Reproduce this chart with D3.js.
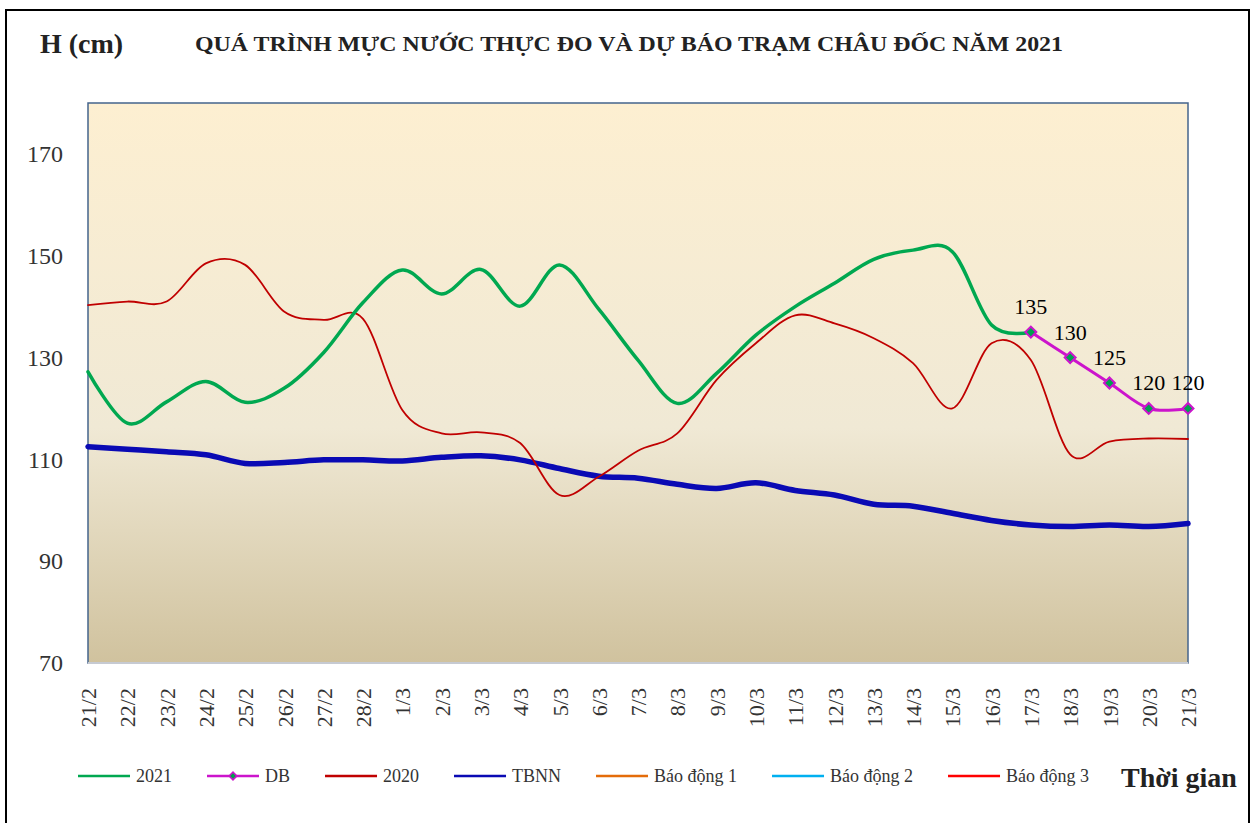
<!DOCTYPE html>
<html>
<head>
<meta charset="utf-8">
<script src="https://cdn.jsdelivr.net/npm/d3@7"></script>
<style>
  body { margin: 0; background: #fff; }
  svg text { font-family: "Liberation Serif", "Times New Roman", serif !important; }
</style>
</head>
<body>
<svg id="chart" width="1257" height="823" font-family="Liberation Serif, serif"></svg>
<script>
// categories (days)
const days = ['21/2','22/2','23/2','24/2','25/2','26/2','27/2','28/2','1/3','2/3','3/3','4/3','5/3','6/3',
  '7/3','8/3','9/3','10/3','11/3','12/3','13/3','14/3','15/3','16/3','17/3','18/3','19/3','20/3','21/3'];

// measured 2021 (up to 17/3)
const h2021 = [127.2,117.1,121.3,125.3,121.2,124.0,131.0,140.8,147.2,142.5,147.3,140.1,148.2,139.5,
  129.5,121.0,126.9,134.4,140.0,144.6,149.3,151.1,150.8,136.4,135];
// forecast DB (17/3 .. 21/3)
const dbDays = ['17/3','18/3','19/3','20/3','21/3'];
const hDB = [135,130,125,120,120];
// 2020
const h2020 = [140.3,141.0,141.0,148.5,148.2,139.0,137.4,137.6,119.7,115.1,115.3,113.2,103.0,106.6,
  111.7,115.1,125.6,132.8,138.3,136.7,133.8,128.9,120.0,132.8,129.5,111.0,113.5,114.1,114.0];
// TBNN (long-term average)
const hTBNN = [112.5,112.0,111.5,110.9,109.2,109.4,109.9,109.9,109.7,110.4,110.7,109.9,108.2,106.7,
  106.3,105.1,104.3,105.4,103.9,103.0,101.2,100.8,99.4,98.0,97.1,96.8,97.1,96.8,97.4];

const yTicks = [70, 90, 110, 130, 150, 170];

const legendItems = [
  { name: '2021', color: '#00a850' },
  { name: 'DB', color: '#cc14cc', marker: true },
  { name: '2020', color: '#c00000' },
  { name: 'TBNN', color: '#0a0ab4' },
  { name: 'Báo động 1', color: '#e46c0a' },
  { name: 'Báo động 2', color: '#00b0f0' },
  { name: 'Báo động 3', color: '#ff0000' }
];

const svg = d3.select('#chart');
const plot = { left: 88, right: 1188, top: 103, bottom: 663 };

// outer frame
svg.append('rect')
  .attr('x', 6).attr('y', 10)
  .attr('width', 1243).attr('height', 830)
  .attr('fill', 'none').attr('stroke', '#000').attr('stroke-width', 2);

// plot background gradient
const grad = svg.append('defs').append('linearGradient')
  .attr('id', 'bg').attr('x1', 0).attr('y1', 0).attr('x2', 0).attr('y2', 1);
grad.append('stop').attr('offset', '0%').attr('stop-color', '#fdefd1');
grad.append('stop').attr('offset', '58%').attr('stop-color', '#f0e9d5');
grad.append('stop').attr('offset', '100%').attr('stop-color', '#d0c29e');

svg.append('rect')
  .attr('x', plot.left).attr('y', plot.top)
  .attr('width', plot.right - plot.left).attr('height', plot.bottom - plot.top)
  .attr('fill', 'url(#bg)')
  .attr('stroke', '#44648c').attr('stroke-width', 1.5);
svg.append('line')
  .attr('x1', plot.left).attr('x2', plot.right)
  .attr('y1', plot.bottom).attr('y2', plot.bottom)
  .attr('stroke', '#c6cad2').attr('stroke-width', 2);

const x = d3.scalePoint().domain(days).range([plot.left, plot.right]);
const y = d3.scaleLinear().domain([70, 180]).range([plot.bottom, plot.top]);

// y axis
const yAxis = svg.append('g')
  .attr('transform', `translate(${plot.left},0)`)
  .call(d3.axisLeft(y).tickValues(yTicks).tickSize(0).tickPadding(25));
yAxis.select('.domain').remove();
yAxis.attr('font-family', null);
yAxis.selectAll('text')
  .style('font-size', '24px')
  .attr('fill', '#333');

// x axis
const xAxis = svg.append('g')
  .attr('transform', `translate(0,${plot.bottom})`)
  .call(d3.axisBottom(x).tickSize(0));
xAxis.select('.domain').remove();
xAxis.attr('font-family', null);
xAxis.selectAll('text')
  .style('font-size', '22px')
  .attr('fill', '#333')
  .attr('transform', 'rotate(-90)')
  .attr('x', -25).attr('y', 0).attr('dy', '0.35em')
  .style('text-anchor', 'end');

// lines
const line = d3.line()
  .x(d => x(d[0]))
  .y(d => y(d[1]))
  .curve(d3.curveCatmullRom.alpha(0));

function draw(keys, vals, color, width) {
  svg.append('path')
    .datum(vals.map((v, i) => [keys[i], v]))
    .attr('d', line)
    .attr('fill', 'none')
    .attr('stroke', color)
    .attr('stroke-width', width)
    .attr('stroke-linejoin', 'round')
    .attr('stroke-linecap', 'round');
}

draw(days, hTBNN, '#0a0ab4', 5.5);
draw(days, h2020, '#c00000', 1.8);
draw(days, h2021, '#00a850', 3.5);
draw(dbDays, hDB, '#cc14cc', 3);

// square rotated 45deg -> even diamond
const square = d3.symbol().type(d3.symbolSquare);

svg.append('g').selectAll('path')
  .data(hDB)
  .join('path')
  .attr('transform', (d, i) => `translate(${x(dbDays[i])},${y(d)}) rotate(45)`)
  .attr('d', square.size(60)())
  .attr('fill', '#00a050')
  .attr('stroke', '#cc14cc')
  .attr('stroke-width', 2);

svg.append('g').selectAll('text')
  .data(hDB)
  .join('text')
  .attr('x', (d, i) => x(dbDays[i]))
  .attr('y', d => y(d) - 18)
  .attr('text-anchor', 'middle')
  .style('font-size', '22px')
  .attr('fill', '#000')
  .text(d => d);

// titles
svg.append('text')
  .attr('x', 40).attr('y', 53)
  .style('font-size', '28px').style('font-weight', 'bold')
  .attr('fill', '#222')
  .text('H (cm)');

svg.append('text')
  .attr('x', 195).attr('y', 51)
  .style('font-size', '21px').style('font-weight', 'bold')
  .attr('fill', '#222')
  .attr('textLength', 868).attr('lengthAdjust', 'spacingAndGlyphs')
  .text('QUÁ TRÌNH MỰC NƯỚC THỰC ĐO VÀ DỰ BÁO TRẠM CHÂU ĐỐC NĂM 2021');

// legend
const legend = svg.append('g').attr('transform', 'translate(78,776)');
let lx = 0;
legendItems.forEach(item => {
  const g = legend.append('g').attr('transform', `translate(${lx},0)`);
  g.append('line')
    .attr('x1', 0).attr('x2', 52).attr('y1', 0).attr('y2', 0)
    .attr('stroke', item.color).attr('stroke-width', 2.5);
  if (item.marker) {
    g.append('path')
      .attr('transform', 'translate(26,0) rotate(45)')
      .attr('d', square.size(30)())
      .attr('fill', '#00a050')
      .attr('stroke', item.color).attr('stroke-width', 1.5);
  }
  const t = g.append('text')
    .attr('x', 58).attr('y', 6)
    .style('font-size', '18px')
    .attr('fill', '#333')
    .text(item.name);
  lx += 58 + t.node().getComputedTextLength() + 35;
});

svg.append('text')
  .attr('x', 1121).attr('y', 787)
  .style('font-size', '28px').style('font-weight', 'bold')
  .attr('fill', '#222')
  .text('Thời gian');
</script>
</body>
</html>
